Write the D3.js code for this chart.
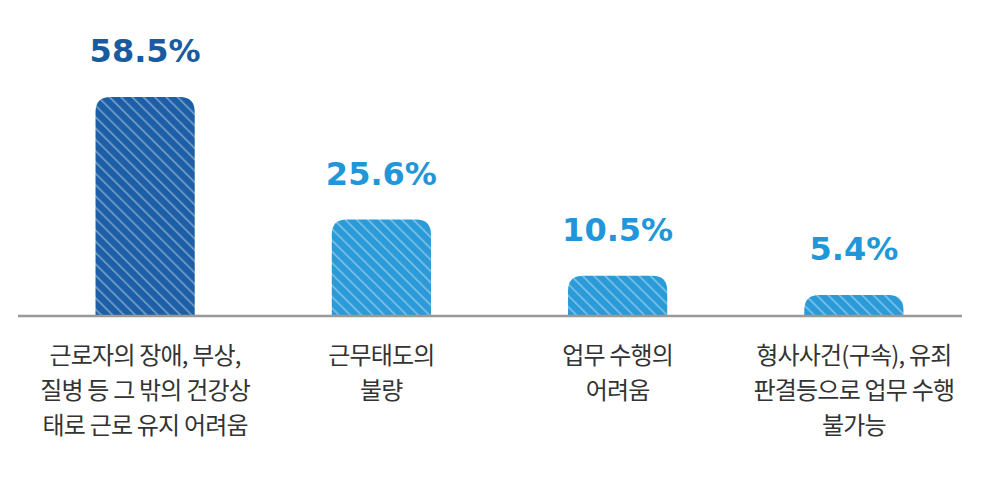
<!DOCTYPE html><html><head><meta charset="utf-8"><script src="https://cdn.jsdelivr.net/npm/d3@7"></script>
<style>body{margin:0;background:#fff}</style></head><body><svg id="c" width="1000" height="499"></svg>
<script>
const categories=[["근로자의 장애, 부상,","질병 등 그 밖의 건강상","태로 근로 유지 어려움"],["근무태도의","불량"],["업무 수행의","어려움"],["형사사건(구속), 유죄","판결등으로 업무 수행","불가능"]];
const values=[58.5,25.6,10.5,5.4];
const labels=["58.5%","25.6%","10.5%","5.4%"];
const colors=["#1d5fa6","#2a9ad8","#2a9ad8","#2a9ad8"];
const labelColors=["#1a5a9e","#2196d8","#2196d8","#2196d8"];
const svg=d3.select("#c");
const base=315;
const x=d3.scaleBand().domain(d3.range(4)).range([27,972]).paddingInner(0.58).paddingOuter(0.29);
const y=d3.scaleLinear().domain([0,58.5]).range([base,97]);
const defs=svg.append("defs");
colors.forEach((c,i)=>{const p=defs.append("pattern").attr("id","p"+i).attr("width",8).attr("height",8).attr("patternUnits","userSpaceOnUse").attr("patternTransform","rotate(-45)");
p.append("rect").attr("width",8).attr("height",8).attr("fill",c);
p.append("rect").attr("width",1.6).attr("height",8).attr("fill","rgba(255,255,255,0.4)");});
const r=15;
values.forEach((v,i)=>{const x0=x(i),w=x.bandwidth(),t=y(v),rr=Math.min(r,(base-t));
svg.append("path").attr("d",`M${x0},${base}V${t+rr}Q${x0},${t} ${x0+rr},${t}H${x0+w-rr}Q${x0+w},${t} ${x0+w},${t+rr}V${base}Z`).attr("fill",`url(#p${i})`);
svg.append("text").attr("x",x0+w/2).attr("y",t-35).attr("text-anchor","middle").attr("font-family","'DejaVu Sans'").attr("font-weight","bold").attr("font-size",32).attr("fill",labelColors[i]).text(labels[i]);
categories[i].forEach((l,j)=>svg.append("text").attr("x",x0+w/2).attr("y",364+j*35).attr("text-anchor","middle").attr("font-family","'Noto Sans CJK KR'").attr("font-size",24).attr("letter-spacing",-0.8).attr("fill","#333").text(l));
});
svg.append("line").attr("x1",18).attr("x2",962).attr("y1",base+1).attr("y2",base+1).attr("stroke","#999").attr("stroke-width",2.5);
</script></body></html>
